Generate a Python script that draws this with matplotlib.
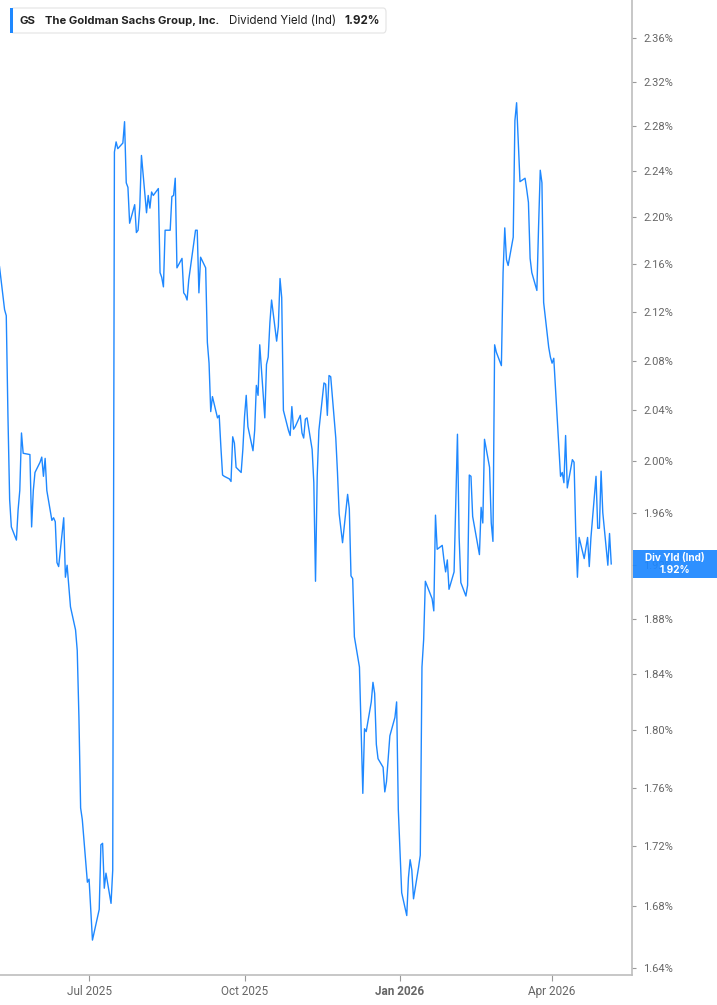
import pandas as pd
import matplotlib
matplotlib.use('Agg')
import matplotlib.pyplot as plt
from matplotlib.patches import FancyBboxPatch, Rectangle
from matplotlib.ticker import FixedLocator, NullLocator

# GS indicated dividend yield (%), one value per trading day
yield_pct = [
    2.158, 2.122, 2.117, 2.035, 1.970, 1.949, 1.939, 1.962, 1.977,
    2.022, 2.006, 2.005, 1.949, 1.977, 1.991, 1.999, 2.003, 1.988, 2.002,
    1.977, 1.954, 1.956, 1.953, 1.922, 1.919, 1.956, 1.911, 1.920, 1.889,
    1.872, 1.857, 1.809, 1.746, 1.738, 1.696, 1.698, 1.678, 1.658,
    1.678, 1.721, 1.722, 1.692, 1.702, 1.682, 1.704, 2.257, 2.266, 2.260,
    2.265, 2.284, 2.230, 2.226, 2.195, 2.211, 2.187, 2.189, 2.209, 2.254,
    2.204, 2.219, 2.208, 2.222, 2.219, 2.225, 2.153, 2.149, 2.141, 2.189,
    2.189, 2.218, 2.219, 2.234, 2.157, 2.165, 2.136, 2.134, 2.130, 2.147,
    2.189, 2.189, 2.136, 2.166, 2.157, 2.095, 2.078, 2.039, 2.051, 2.034,
    2.036, 2.011, 1.989, 1.988, 1.986, 1.984, 2.019, 2.014, 1.995, 1.991, 2.009,
    2.035, 2.052, 2.027, 2.008, 2.024, 2.060, 2.052, 2.093, 2.034, 2.077,
    2.083, 2.111, 2.130, 2.096, 2.108, 2.148, 2.132, 2.040, 2.024, 2.020,
    2.043, 2.025, 2.027, 2.036, 2.022, 2.018, 2.033, 2.034, 2.009, 1.983,
    1.908, 1.988, 2.024, 2.062, 2.061, 2.036, 2.068, 2.067, 2.018, 1.991,
    1.959, 1.937, 1.974, 1.963, 1.912, 1.910, 1.867, 1.845, 1.799,
    1.756, 1.801, 1.799, 1.820, 1.834, 1.826, 1.790, 1.780, 1.774, 1.757,
    1.764, 1.796, 1.809, 1.820, 1.745, 1.689, 1.674, 1.699, 1.711, 1.704,
    1.685, 1.706, 1.714, 1.845, 1.865, 1.908, 1.895, 1.886, 1.958, 1.932,
    1.935, 1.924, 1.915, 1.924, 1.902, 1.915, 1.968, 2.021, 1.941, 1.907,
    1.897, 1.905, 1.989, 1.988, 1.957, 1.928, 1.964, 1.952, 2.017, 1.995,
    1.952, 1.938, 2.093, 2.087, 2.076, 2.153, 2.191, 2.164, 2.159,
    2.183, 2.285, 2.301, 2.265, 2.231, 2.234, 2.224, 2.213, 2.165, 2.153,
    2.138, 2.192, 2.241, 2.230, 2.128, 2.091, 2.083, 2.078, 2.082, 1.988,
    1.991, 1.983, 2.020, 1.979, 2.001, 1.999, 1.945, 1.911, 1.941, 1.925,
    1.933, 1.941, 1.919, 1.941, 1.988, 1.948, 1.948, 1.992, 1.960, 1.920,
    1.944, 1.921,
]
market_holidays = ['2025-05-26', '2025-06-19', '2025-07-04', '2025-09-01', '2025-11-27',
                   '2025-12-25', '2026-01-01', '2026-01-19', '2026-02-16', '2026-04-03']
last_day = '2026-05-06'

y_ticks = [1.64, 1.68, 1.72, 1.76, 1.80, 1.84, 1.88, 1.92, 1.96, 2.00,
           2.04, 2.08, 2.12, 2.16, 2.20, 2.24, 2.28, 2.32, 2.36]
x_ticks = ['2025-07-01', '2025-10-01', '2026-01-01', '2026-04-01']
x_tick_labels = ['Jul 2025', 'Oct 2025', 'Jan 2026', 'Apr 2026']

ticker = 'GS'
company = 'The Goldman Sachs Group, Inc.'
metric = 'Dividend Yield (Ind)'
badge_title = 'Div Yld (Ind)'

blue = '#1e88ff'
W, H = 717, 1005

dates = pd.bdate_range(end=last_day, periods=len(yield_pct), freq='C', holidays=market_holidays)

fig = plt.figure(figsize=(W / 100, H / 100), dpi=100)
ax = fig.add_axes([0, 30 / H, 632 / W, 975 / H])
ax.plot(dates, yield_pct, color=blue, lw=1.0)

ax.set_yscale('log')
ax.set_ylim(1.6355, 2.3954)
ax.set_xlim(pd.Timestamp('2025-05-09 07:00'), pd.Timestamp('2026-05-18 07:00'))

ax.yaxis.tick_right()
ax.yaxis.set_major_locator(FixedLocator(y_ticks))
ax.yaxis.set_minor_locator(NullLocator())
ax.set_yticklabels([f'{t:.2f}%' for t in y_ticks])
ax.set_xticks(pd.to_datetime(x_ticks))
ax.set_xticklabels(x_tick_labels)

tick_font = ['Roboto', 'DejaVu Sans']
for lab in ax.get_yticklabels():
    lab.set_family(tick_font)
for lab, name in zip(ax.get_xticklabels(), x_tick_labels):
    lab.set_family(tick_font)
    if name.startswith('Jan'):
        lab.set_fontweight('bold')
        lab.set_fontsize(10)
        lab.set_color('#444444')

for side in ['top', 'left']:
    ax.spines[side].set_visible(False)
for side in ['right', 'bottom']:
    ax.spines[side].set_color('#bdbdbd')
    ax.spines[side].set_linewidth(1.2)
ax.tick_params(axis='y', which='major', length=3, color='#999999', labelsize=8,
               labelcolor='#666666', pad=5)
ax.tick_params(axis='x', which='major', length=4, color='#999999', labelsize=8.5,
               labelcolor='#666666', pad=3)
ax.tick_params(which='minor', length=0)


def fx(px):
    return px / W


def fy(py):
    return 1 - py / H


# header legend box
fig.patches.append(FancyBboxPatch((fx(11), fy(33)), fx(375), 25 / H,
                                  boxstyle='round,pad=0,rounding_size=0.004',
                                  transform=fig.transFigure, facecolor='white',
                                  edgecolor='#e3e3e3', lw=0.8, zorder=5))
fig.patches.append(Rectangle((fx(10), fy(33)), fx(3), 25 / H, transform=fig.transFigure,
                             facecolor=blue, edgecolor='none', zorder=6))
head_font = ['Inter', 'DejaVu Sans']
fig.text(fx(20), fy(20.5), ticker, ha='left', va='center', fontsize=8.25, fontweight='bold',
         color='#222222', family=head_font, zorder=7)
fig.text(fx(45), fy(20.5), company, ha='left', va='center', fontsize=8.1, fontweight='bold',
         color='#222222', family=head_font, zorder=7)
fig.text(fx(229), fy(20.5), metric, ha='left', va='center', fontsize=8.3,
         color='#222222', family=head_font, zorder=7)
fig.text(fx(344), fy(20.5), f'{yield_pct[-1]:.2f}%', ha='left', va='center', fontsize=8.3,
         fontweight='bold', color='#222222', family=head_font, zorder=7)

# last value badge on the right axis (slightly see-through, as in the source)
_, last_y = ax.transData.transform((ax.xaxis.convert_units(dates[-1]), yield_pct[-1]))
fig.patches.append(Rectangle((fx(633), (last_y - 14) / H), fx(84), 28 / H,
                             transform=fig.transFigure, facecolor=blue, alpha=0.93,
                             edgecolor='none', zorder=5))
fig.text(fx(675), (last_y + 5.5) / H, badge_title, ha='center', va='center', fontsize=7.2,
         fontweight='bold', color='white', family=head_font, zorder=7)
fig.text(fx(675), (last_y - 6) / H, f'{yield_pct[-1]:.2f}%', ha='center', va='center',
         fontsize=7.2, fontweight='bold', color='white', family=head_font, zorder=7)

fig.savefig('out.png', dpi=100)
